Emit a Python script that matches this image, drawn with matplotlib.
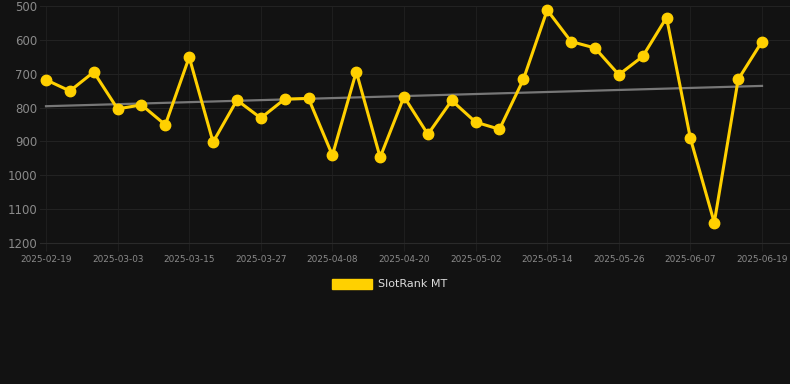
import matplotlib
matplotlib.use("Agg")
import matplotlib.pyplot as plt
import pandas as pd
from matplotlib.patches import Patch

dates = pd.date_range("2025-02-19", "2025-06-19", freq="4D")
ranks = [718, 751, 695, 804, 792, 851, 651, 902, 778, 831, 775, 773, 941, 694,
         947, 768, 879, 779, 843, 864, 717, 512, 605, 624, 703, 649, 534, 891,
         1140, 717, 605]
trend = [796, 736]
tick_dates = pd.date_range("2025-02-19", "2025-06-19", freq="12D")
y_ticks = [500, 600, 700, 800, 900, 1000, 1100, 1200]
series_name = "SlotRank MT"

BG = "#121212"
GOLD = "#FFD000"
GRID_X = "#1e1e1e"
GRID_Y = "#222222"
TXT = "#8a8a8a"

W, H = 790, 384
fig = plt.figure(figsize=(W / 100, H / 100), dpi=100, facecolor=BG)
ax = fig.add_axes([40 / W, 1 - 243 / H, 750 / W, (243 - 6) / H], facecolor=BG)

ax.plot([dates[0], dates[-1]], trend, color="#777777", lw=1.6, zorder=2)
ax.plot(dates, ranks, color=GOLD, lw=2.2, marker="o", ms=7.5, zorder=3, clip_on=False)

ax.set_ylim(1200, 500)
ax.set_xlim(dates[0] - pd.Timedelta(days=1.006), dates[0] + pd.Timedelta(days=124.69))
ax.set_yticks(y_ticks)
ax.set_xticks(tick_dates)
ax.set_xticklabels([d.strftime("%Y-%m-%d") for d in tick_dates])
ax.grid(True, axis="x", color=GRID_X, lw=0.8)
ax.grid(True, axis="y", color=GRID_Y, lw=0.8)
ax.set_axisbelow(True)
for name, s in ax.spines.items():
    s.set_visible(name == "bottom")
ax.spines["bottom"].set_color("#2a2a2a")
ax.spines["bottom"].set_linewidth(0.8)
ax.tick_params(axis="x", colors=GRID_X, labelcolor=TXT, labelsize=6.4, length=6, width=0.8, pad=3)
ax.tick_params(axis="y", colors=GRID_Y, labelcolor=TXT, labelsize=8.5, length=0, pad=2)

leg = fig.legend(handles=[Patch(facecolor=GOLD, edgecolor=GOLD)], labels=[series_name],
                 loc="center", bbox_to_anchor=(389.5 / W, 1 - 284 / H), frameon=False,
                 handlelength=3.6, handleheight=1.0, fontsize=8, labelcolor="#dddddd",
                 handletextpad=0.5, borderpad=0)

fig.savefig("out.png", dpi=100, facecolor=BG)
